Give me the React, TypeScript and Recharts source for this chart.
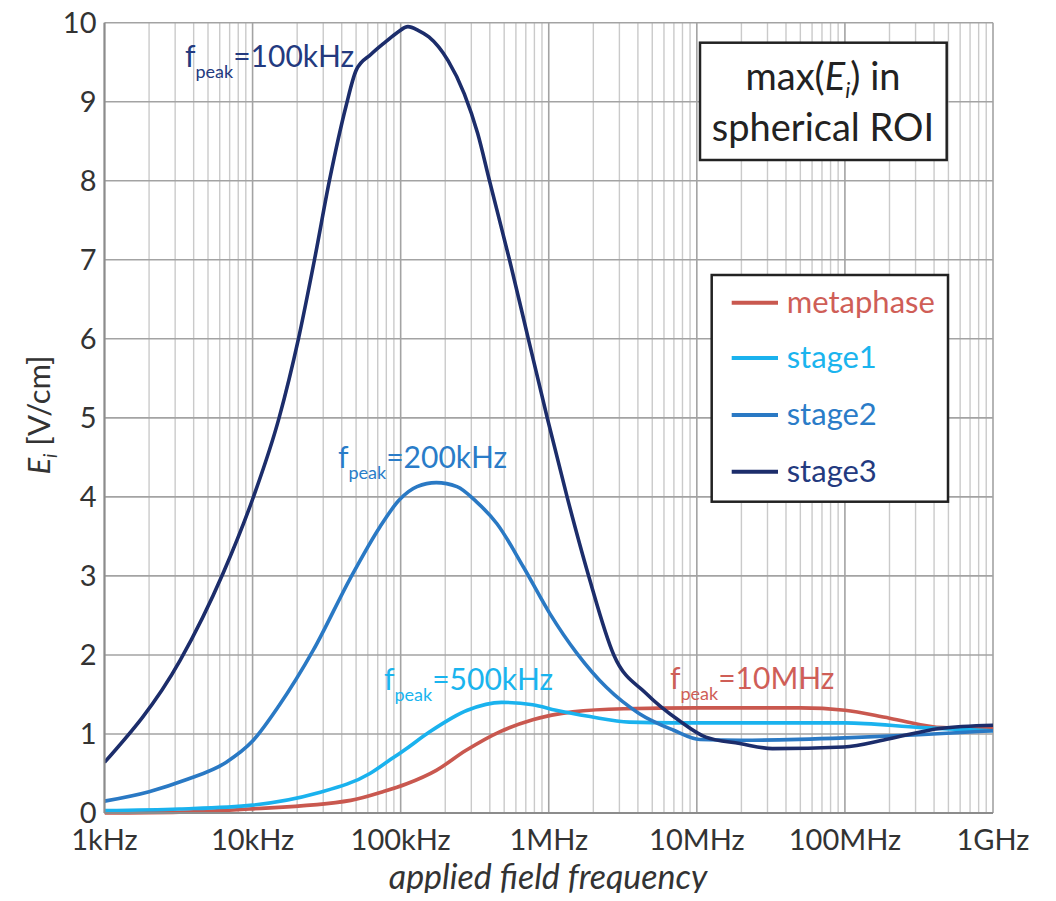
import React from 'react';
import { LineChart, Line, XAxis, YAxis, CartesianGrid } from 'recharts';

// ---- axis ticks ----
const decadeTicks = [1e3, 1e4, 1e5, 1e6, 1e7, 1e8, 1e9];
const decadeLabels = ['1kHz', '10kHz', '100kHz', '1MHz', '10MHz', '100MHz', '1GHz'];
const minorMultipliers = [2, 3, 4, 5, 6, 7, 8, 9];
const yTicks = [0, 1, 2, 3, 4, 5, 6, 7, 8, 9, 10];

// ---- series (frequency in Hz, E in V/cm) ----
const metaFreq = [1e3, 3.2e3, 9.5e3, 4.6e4, 7.6e4, 1.1e5, 1.74e5, 2.75e5, 4.7e5, 7.8e5, 1.45e6, 3.2e6, 1e7, 5e7, 1e8, 2e8, 4.6e8, 1e9];
const metaValues = [0.0, 0.01, 0.05, 0.16, 0.27, 0.37, 0.54, 0.79, 1.03, 1.18, 1.28, 1.32, 1.33, 1.33, 1.3, 1.2, 1.08, 1.07];

const stage1Freq = [1e3, 3.2e3, 1e4, 2.7e4, 6.2e4, 8.3e4, 1.05e5, 1.58e5, 2.82e5, 4.8e5, 7.8e5, 1.12e6, 1.9e6, 3.5e6, 6.9e6, 1e8, 3.3e8, 1e9];
const stage1Values = [0.03, 0.05, 0.1, 0.25, 0.5, 0.66, 0.79, 1.03, 1.3, 1.4, 1.37, 1.3, 1.22, 1.15, 1.14, 1.14, 1.08, 1.04];

const stage2Freq = [1e3, 2e3, 3.55e3, 6.61e3, 1e4, 1.51e4, 2.57e4, 4.57e4, 7.24e4, 9.77e4, 1.29e5, 1.74e5, 2.4e5, 3.24e5, 4.47e5, 6.76e5, 1.02e6, 1.55e6, 2.45e6, 4.07e6, 6.92e6, 1.05e7, 2e7, 1e8, 3.16e8, 1e9];
const stage2Values = [0.15, 0.27, 0.42, 0.64, 0.91, 1.36, 2.06, 2.97, 3.62, 3.96, 4.13, 4.18, 4.13, 3.94, 3.66, 3.11, 2.52, 2.02, 1.59, 1.26, 1.05, 0.93, 0.92, 0.95, 0.99, 1.04];

const stage3Freq = [1e3, 3.24e3, 6.31e3, 1e4, 1.51e4, 2.04e4, 2.63e4, 3.31e4, 4.27e4, 5.01e4, 6.31e4, 7.94e4, 9.55e4, 1.12e5, 1.32e5, 1.55e5, 2.09e5, 2.69e5, 3.31e5, 3.98e5, 5.43e5, 7.28e5, 9.77e5, 1.33e6, 1.86e6, 2.75e6, 4.57e6, 7.59e6, 1.15e7, 1.95e7, 3.24e7, 9.77e7, 2e8, 4.37e8, 1e9];
const stage3Values = [0.64, 1.93, 3.03, 3.97, 5.0, 6.0, 7.02, 8.01, 8.94, 9.4, 9.6, 9.76, 9.88, 9.95, 9.9, 9.82, 9.52, 9.1, 8.6, 8.0, 7.0, 6.0, 5.0, 4.0, 3.0, 2.0, 1.51, 1.17, 0.96, 0.88, 0.815, 0.835, 0.94, 1.07, 1.11];

const seriesNames = ['metaphase', 'stage1', 'stage2', 'stage3'];
const seriesColors = ['#c9584f', '#1ab2ee', '#2a79c4', '#1c2d6b'];
const legendTextColors = ['#cf5e57', '#1ab4ee', '#2a7cc8', '#233a7f'];

const zip = (fs: number[], vs: number[]) => fs.map((f, i) => ({ f, v: vs[i] }));
const seriesData = [
  zip(metaFreq, metaValues),
  zip(stage1Freq, stage1Values),
  zip(stage2Freq, stage2Values),
  zip(stage3Freq, stage3Values),
];

const minorFreqs = decadeTicks.slice(0, -1).flatMap((d) => minorMultipliers.map((m) => d * m));

const FONT = 'Lato, "Open Sans", sans-serif';
const W = 1040;
const H = 885;

const Peak = ({ x, y, color, value }: { x: number; y: number; color: string; value: string }) => (
  <text x={x} y={y} fill={color} fontFamily={FONT} fontSize={30}>
    <tspan>f</tspan>
    <tspan fontSize={18} dy={11}>peak</tspan>
    <tspan dy={-11}>{value}</tspan>
  </text>
);

export default function App() {
  return (
    <div style={{ position: 'relative', width: W, height: H, background: '#fff' }}>
      <LineChart width={W} height={H} margin={{ top: 14.7, right: 55, left: 0, bottom: 20 }}>
        <CartesianGrid
          xAxisId="minor"
          horizontal={false}
          vertical={true}
          verticalValues={minorFreqs}
          stroke="#cacaca"
          strokeWidth={1.4}
        />
        <CartesianGrid stroke="#a3a3a3" strokeWidth={1.6} />
        <XAxis
          xAxisId="minor"
          dataKey="f"
          type="number"
          scale="log"
          domain={[1e3, 1e9]}
          ticks={minorFreqs}
          interval={0}
          allowDataOverflow
          hide
        />
        <XAxis
          dataKey="f"
          type="number"
          scale="log"
          domain={[1e3, 1e9]}
          ticks={decadeTicks}
          interval={0}
          allowDataOverflow
          height={60}
          tickLine={false}
          tickMargin={10}
          axisLine={{ stroke: '#8c8c8c', strokeWidth: 2 }}
          tick={{ fontSize: 29, fill: '#333', fontFamily: FONT }}
          tickFormatter={(v: number) => decadeLabels[decadeTicks.indexOf(v)] ?? ''}
        />
        <YAxis
          type="number"
          domain={[0, 10]}
          ticks={yTicks}
          interval={0}
          width={96.5}
          tickLine={false}
          axisLine={{ stroke: '#8c8c8c', strokeWidth: 2 }}
          tick={{ fontSize: 29, fill: '#333', fontFamily: FONT }}
        />
        {seriesData.map((d, i) => (
          <Line
            key={seriesNames[i]}
            data={d}
            dataKey="v"
            name={seriesNames[i]}
            type="monotone"
            stroke={seriesColors[i]}
            strokeWidth={3.6}
            dot={false}
            activeDot={false}
            isAnimationActive={false}
          />
        ))}
      </LineChart>
      <svg
        width={W}
        height={H + 8}
        style={{ position: 'absolute', left: 0, top: 0, pointerEvents: 'none', overflow: 'visible' }}
      >
        {/* peak annotations */}
        <Peak x={177} y={58.7} color="#233a7f" value="=100kHz" />
        <Peak x={330} y={460} color="#2a7cc8" value="=200kHz" />
        <Peak x={376} y={682} color="#1ab4ee" value="=500kHz" />
        <Peak x={662} y={681} color="#cf5e57" value="=10MHz" />

        {/* title box */}
        <rect x={692} y={34.7} width={246.7} height={117.3} fill="#fff" stroke="#222" strokeWidth={2.5} />
        <text x={815} y={82} textAnchor="middle" fontFamily={FONT} fontSize={38} fill="#222">
          <tspan>max(</tspan>
          <tspan fontStyle="italic">E</tspan>
          <tspan fontStyle="italic" fontSize={22} dy={8}>i</tspan>
          <tspan dy={-8}>) in</tspan>
        </text>
        <text x={815} y={133} textAnchor="middle" fontFamily={FONT} fontSize={38} fill="#222">
          spherical ROI
        </text>

        {/* legend box */}
        <rect x={703.7} y={267} width={236.3} height={226.7} fill="#fff" stroke="#222" strokeWidth={2.5} />
        {seriesNames.map((n, i) => {
          const cy = [294.7, 350, 407, 463.7][i];
          return (
            <g key={n}>
              <line x1={723.7} x2={770} y1={cy} y2={cy} stroke={seriesColors[i]} strokeWidth={4} />
              <text x={778.7} y={cy + 10} fontFamily={FONT} fontSize={31} fill={legendTextColors[i]}>
                {n}
              </text>
            </g>
          );
        })}

        {/* axis titles */}
        <text x={540} y={881} textAnchor="middle" fontFamily={FONT} fontSize={34} fontStyle="italic" fill="#333">
          applied field frequency
        </text>
        <text
          x={42}
          y={407}
          textAnchor="middle"
          fontFamily={FONT}
          fontSize={31}
          fill="#333"
          transform="rotate(-90, 42, 407)"
        >
          <tspan fontStyle="italic">E</tspan>
          <tspan fontStyle="italic" fontSize={19} dy={7}>i</tspan>
          <tspan dy={-7}> [V/cm]</tspan>
        </text>
      </svg>
    </div>
  );
}
